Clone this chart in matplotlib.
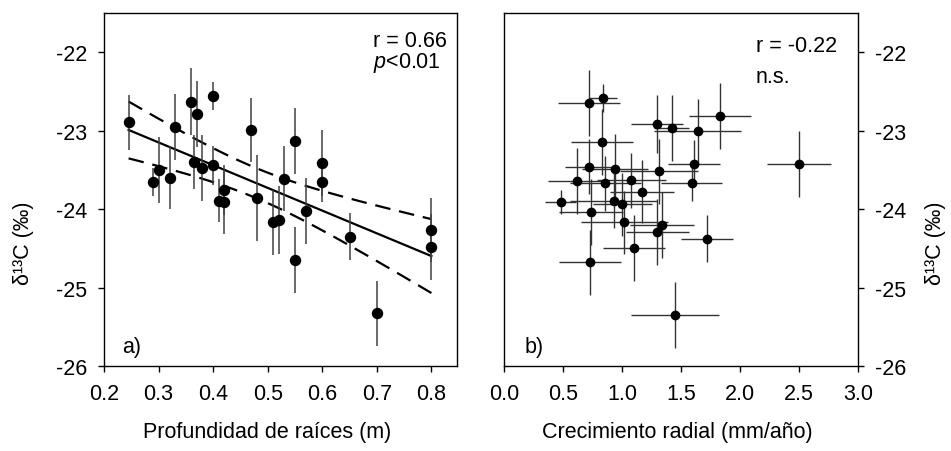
import numpy as np
import matplotlib
matplotlib.use("Agg")
import matplotlib.pyplot as plt

plt.rcParams['font.family'] = ['Liberation Sans', 'DejaVu Sans']
plt.rcParams['mathtext.fontset'] = 'custom'
plt.rcParams['mathtext.rm'] = 'Liberation Sans'
plt.rcParams['mathtext.it'] = 'Liberation Sans:italic'
plt.rcParams['axes.unicode_minus'] = False

# panel a) profundidad de raices vs d13C
raiz = [0.245, 0.29, 0.30, 0.32, 0.33, 0.36, 0.37, 0.40, 0.365, 0.38, 0.40, 0.42, 0.41, 0.42,
        0.47, 0.48, 0.51, 0.52, 0.53, 0.55, 0.55, 0.57, 0.60, 0.60, 0.65, 0.70, 0.80, 0.80]
d13c_a = [-22.89, -23.65, -23.50, -23.60, -22.95, -22.63, -22.79, -22.56, -23.40, -23.47, -23.44,
          -23.76, -23.89, -23.91, -22.99, -23.86, -24.17, -24.14, -23.61, -23.13, -24.65, -24.02,
          -23.41, -23.66, -24.35, -25.33, -24.27, -24.48]
err_a = [0.35, 0.18, 0.42, 0.40, 0.42, 0.43, 0.42, 0.18, 0.34, 0.42, 0.25, 0.32, 0.28, 0.41,
         0.41, 0.55, 0.41, 0.43, 0.42, 0.42, 0.42, 0.42, 0.42, 0.25, 0.30, 0.42, 0.41, 0.42]

# panel b) crecimiento radial vs d13C
crec = [0.72, 0.84, 0.83, 1.30, 1.42, 1.64, 1.83, 2.50, 1.61, 1.59, 1.31, 0.72, 0.94, 0.62,
        0.86, 1.08, 1.17, 0.48, 0.93, 1.00, 0.74, 1.02, 1.34, 1.30, 1.72, 1.10, 0.73, 1.45]
d13c_b = [-22.65, -22.58, -23.14, -22.91, -22.97, -23.01, -22.81, -23.43, -23.42, -23.67, -23.52,
          -23.46, -23.49, -23.64, -23.67, -23.63, -23.78, -23.91, -23.89, -23.94, -24.04, -24.17,
          -24.20, -24.29, -24.38, -24.50, -24.68, -25.35]
xerr_b = [0.26, 0.12, 0.265, 0.22, 0.15, 0.37, 0.265, 0.27, 0.22, 0.26, 0.33, 0.20, 0.28, 0.245,
          0.30, 0.29, 0.27, 0.13, 0.37, 0.25, 0.27, 0.37, 0.27, 0.27, 0.22, 0.265, 0.265, 0.37]
yerr_b = [0.42, 0.18, 0.42, 0.37, 0.42, 0.42, 0.42, 0.42, 0.30, 0.22, 0.42, 0.35, 0.45, 0.42,
          0.35, 0.35, 0.40, 0.15, 0.35, 0.40, 0.42, 0.40, 0.42, 0.42, 0.30, 0.42, 0.42, 0.42]

yticks = [-26, -25, -24, -23, -22]
FS = 15.5


def banda_confianza(x, y, xs):
    """Recta de regresion y banda de confianza del 95%."""
    x = np.asarray(x)
    y = np.asarray(y)
    n = len(x)
    b, a = np.polyfit(x, y, 1)
    res = y - (a + b * x)
    s = np.sqrt(np.sum(res ** 2) / (n - 2))
    sxx = np.sum((x - x.mean()) ** 2)
    t = 2.056
    fit = a + b * xs
    half = t * s * np.sqrt(1.0 / n + (xs - x.mean()) ** 2 / sxx)
    return fit, fit - half, fit + half


def estilo(ax):
    for sp in ax.spines.values():
        sp.set_linewidth(1.0)
    ax.set_ylim(-26, -21.5)
    ax.set_yticks(yticks)
    ax.tick_params(direction='out', length=4, width=1, labelsize=FS, pad=8)


def main():
    fig = plt.figure(figsize=(9.51, 4.52), dpi=100)
    ax1 = fig.add_axes([0.1094, 0.188, 0.3712, 0.781])
    ax2 = fig.add_axes([0.530, 0.188, 0.3722, 0.781])

    # a)
    ax1.errorbar(raiz, d13c_a, yerr=err_a, fmt='o', color='black', ms=7.2,
                 ecolor='0.25', elinewidth=1.1, capsize=0, zorder=3)
    xs = np.linspace(min(raiz), max(raiz), 100)
    fit, lo, hi = banda_confianza(raiz, d13c_a, xs)
    ax1.plot(xs, fit, color='black', lw=1.6)
    ax1.plot(xs, lo, color='black', lw=1.6, ls=(0, (7, 4)))
    ax1.plot(xs, hi, color='black', lw=1.6, ls=(0, (7, 4)))
    ax1.set_xlim(0.2, 0.847)
    ax1.set_xticks([0.2, 0.3, 0.4, 0.5, 0.6, 0.7, 0.8])
    ax1.set_xticklabels(['0.2', '0.3', '0.4', '0.5', '0.6', '0.7', '0.8'])
    estilo(ax1)
    ax1.tick_params(right=False, top=False)
    ax1.set_xlabel('Profundidad de raíces (m)', fontsize=FS)
    ax1.xaxis.set_label_coords(0.463, -0.155)
    ax1.text(0.762, 0.906, 'r = 0.66', transform=ax1.transAxes, fontsize=FS)
    ax1.text(0.762, 0.846, '$p$<0.01', transform=ax1.transAxes, fontsize=FS)
    ax1.text(0.05, 0.04, 'a)', transform=ax1.transAxes, fontsize=FS)

    # b)
    ax2.errorbar(crec, d13c_b, xerr=xerr_b, yerr=yerr_b, fmt='o', color='black', ms=6,
                 ecolor='0.2', elinewidth=1.0, capsize=0, zorder=3)
    ax2.set_xlim(0, 3.0)
    ax2.set_xticks([0.0, 0.5, 1.0, 1.5, 2.0, 2.5, 3.0])
    ax2.set_xticklabels(['0.0', '0.5', '1.0', '1.5', '2.0', '2.5', '3.0'])
    estilo(ax2)
    ax2.tick_params(axis='y', left=False, labelleft=False, right=True, labelright=True)
    ax2.tick_params(top=False)
    ax2.set_xlabel('Crecimiento radial (mm/año)', fontsize=FS)
    ax2.xaxis.set_label_coords(0.49, -0.155)
    ax2.text(0.712, 0.893, 'r = -0.22', transform=ax2.transAxes, fontsize=FS)
    ax2.text(0.712, 0.805, 'n.s.', transform=ax2.transAxes, fontsize=FS)
    ax2.text(0.059, 0.04, 'b)', transform=ax2.transAxes, fontsize=FS)

    fig.text(24 / 951, 1 - 243 / 452, 'δ¹³C (‰)', rotation=90, ha='center', va='center',
             fontsize=FS)
    fig.text(935 / 951, 1 - 243 / 452, 'δ¹³C (‰)', rotation=90, ha='center', va='center',
             fontsize=FS)

    fig.savefig('out.png', dpi=100)


if __name__ == "__main__":
    main()
